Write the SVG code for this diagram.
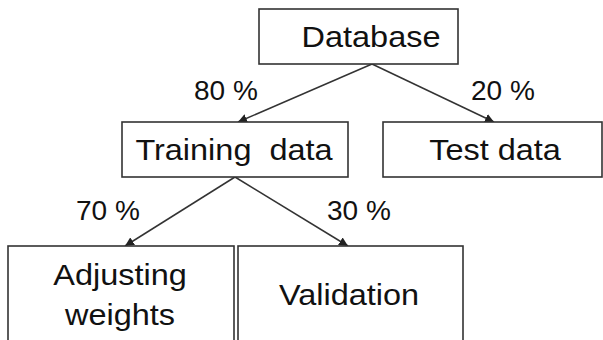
<svg xmlns="http://www.w3.org/2000/svg" width="603" height="340" viewBox="0 0 603 340">
<style>
.box{fill:#fff;stroke:#333;stroke-width:1.6}
.lbl{font-family:"Liberation Sans",Arial,sans-serif;font-size:29px;fill:#111;text-anchor:middle}
.pct{font-family:"Liberation Sans",Arial,sans-serif;font-size:28px;fill:#111;text-anchor:start}
.edge{stroke:#333;stroke-width:1.5;fill:none;marker-end:url(#ah)}
</style>
<defs>
<marker id="ah" viewBox="0 0 10 10" refX="10" refY="5" markerWidth="9" markerHeight="9" markerUnits="userSpaceOnUse" orient="auto">
<path d="M0,0 L10,5 L0,10 z" fill="#222"/>
</marker>
</defs>
<rect width="603" height="340" fill="#fff"/>
<g id="connectors">
<line class="edge" x1="372" y1="64" x2="238" y2="122"/>
<line class="edge" x1="372" y1="64" x2="494" y2="122"/>
<line class="edge" x1="235" y1="177" x2="125" y2="246"/>
<line class="edge" x1="235" y1="177" x2="348" y2="246"/>
<text class="pct" x="194" y="100">80 %</text>
<text class="pct" x="471" y="100">20 %</text>
<text class="pct" x="76" y="220">70 %</text>
<text class="pct" x="327" y="220">30 %</text>
</g>
<g id="database">
<rect class="box" x="259" y="9" width="199" height="55"/>
<text class="lbl" transform="translate(371,47) scale(1.12,1)">Database</text>
</g>
<g id="training">
<rect class="box" x="122" y="122" width="226" height="55"/>
<text class="lbl" transform="translate(234,160) scale(1.12,1)">Training&#160; data</text>
</g>
<g id="test">
<rect class="box" x="383" y="122" width="219" height="55"/>
<text class="lbl" transform="translate(495,160) scale(1.12,1)">Test data</text>
</g>
<g id="adjusting">
<rect class="box" x="8" y="246" width="226" height="100"/>
<text class="lbl" transform="translate(120,285) scale(1.12,1)">Adjusting</text>
<text class="lbl" transform="translate(120,325) scale(1.12,1)">weights</text>
</g>
<g id="validation">
<rect class="box" x="238" y="246" width="225" height="100"/>
<text class="lbl" transform="translate(349,305) scale(1.12,1)">Validation</text>
</g>
</svg>
